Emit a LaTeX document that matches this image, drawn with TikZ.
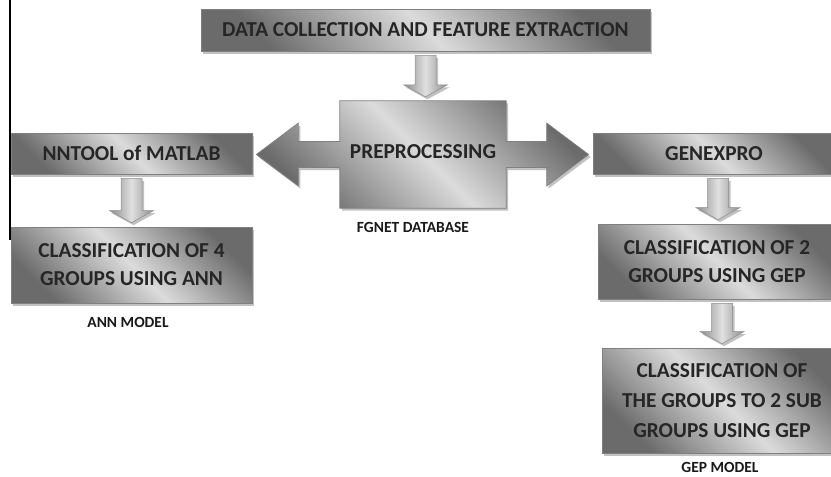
\documentclass[tikz,border=0pt]{standalone}
\usepackage{fontspec}
\setmainfont{Carlito}
\usetikzlibrary{shadows,calc,backgrounds}
\tikzset{
  shadedfill/.style={shading=axis, top color=black!58, bottom color=black!58,
    middle color=black!14, shading angle=-45},
  myshadow/.style={drop shadow={shadow xshift=2pt, shadow yshift=-2.5pt, opacity=0.35, fill=black!70}},
  boxfont/.style={font=\bfseries\fontsize{21.3}{28}\selectfont},
  box/.style={shadedfill, myshadow, draw=black!50, line width=0.7pt, inner sep=0pt,
    boxfont, align=center, text=black!85},
  caption/.style={font=\bfseries\fontsize{15.5}{18}\selectfont, text=black!90, inner sep=0pt},
  darrow/.style={shading=axis, left color=black!45, right color=black!45, middle color=black!12,
    draw=black!45, line width=0.5pt, myshadow},
  preshape/.style={shadedfill, draw=black!50, line width=0.7pt, myshadow}
}
\newcommand{\blockdown}[3]{%
  \path[darrow] let \p1=($(#1.south)+(#3,4)$), \p2=($(#2.north)+(#3,-4)$) in
    (\x1-10.5pt,\y1) -- (\x1+10.5pt,\y1) -- (\x1+10.5pt,\y2+12pt) -- (\x1+22pt,\y2+12pt)
    -- (\x1,\y2) -- (\x1-22pt,\y2+12pt) -- (\x1-10.5pt,\y2+12pt) -- cycle;}
\begin{document}
\begin{tikzpicture}[x=1pt,y=-1pt]
\useasboundingbox (0,0) rectangle (831,477);
\draw[line width=1.1pt] (10,0) -- (10,240);

\node[box, minimum width=449, minimum height=42] (top) at (425.5,30) {DATA COLLECTION AND FEATURE EXTRACTION};
\node[box, minimum width=241, minimum height=41] (nnt) at (131.5,153.5) {NNTOOL of MATLAB};
\node[box, minimum width=242, minimum height=41] (gen) at (714,153.5) {GENEXPRO};
\node[box, minimum width=241, minimum height=76] (ann) at (131.5,265) {CLASSIFICATION OF 4\\GROUPS USING ANN};
\node[box, minimum width=238, minimum height=75] (gep2) at (717,261.5) {CLASSIFICATION OF 2\\GROUPS USING GEP};
\node[box, minimum width=240, minimum height=105, font=\bfseries\fontsize{21.3}{30}\selectfont] (gep3) at (722,400.5) {CLASSIFICATION OF\\THE GROUPS TO 2 SUB\\GROUPS USING GEP};

\node[inner sep=0pt, minimum width=166, minimum height=107, boxfont, text=black!85] (pre) at (423,154.5) {\raisebox{6pt}{PREPROCESSING}};
\begin{scope}[on background layer]
\path[preshape] let \p1=(pre.west), \p2=(pre.east), \p3=(pre.north), \p4=(pre.south),
  \p5=($(nnt.east)+(4,0)$), \p6=($(gen.west)+(-4,0)$) in
  (\x5,\y1) -- (\x5+42pt,\y1+31.5pt) -- (\x5+42pt,\y1+13pt) -- (\x1,\y1+13pt) -- (\x1,\y3)
  -- (\x2,\y3) -- (\x2,\y1+13pt) -- (\x6-42pt,\y1+13pt) -- (\x6-42pt,\y1+31.5pt) -- (\x6,\y1)
  -- (\x6-42pt,\y1-31.5pt) -- (\x6-42pt,\y1-13pt) -- (\x2,\y1-13pt) -- (\x2,\y4) -- (\x1,\y4)
  -- (\x1,\y1-13pt) -- (\x5+42pt,\y1-13pt) -- (\x5+42pt,\y1-31.5pt) -- cycle;
\end{scope}

\blockdown{top}{pre}{0}
\blockdown{nnt}{ann}{0}
\blockdown{gen}{gep2}{4}
\blockdown{gep2}{gep3}{5}

\node[caption] (fg) at (413,227) {FGNET DATABASE};
\node[caption] (annm) at (128,322) {ANN MODEL};
\node[caption] (gepm) at (720,467.5) {GEP MODEL};
\end{tikzpicture}
\end{document}
